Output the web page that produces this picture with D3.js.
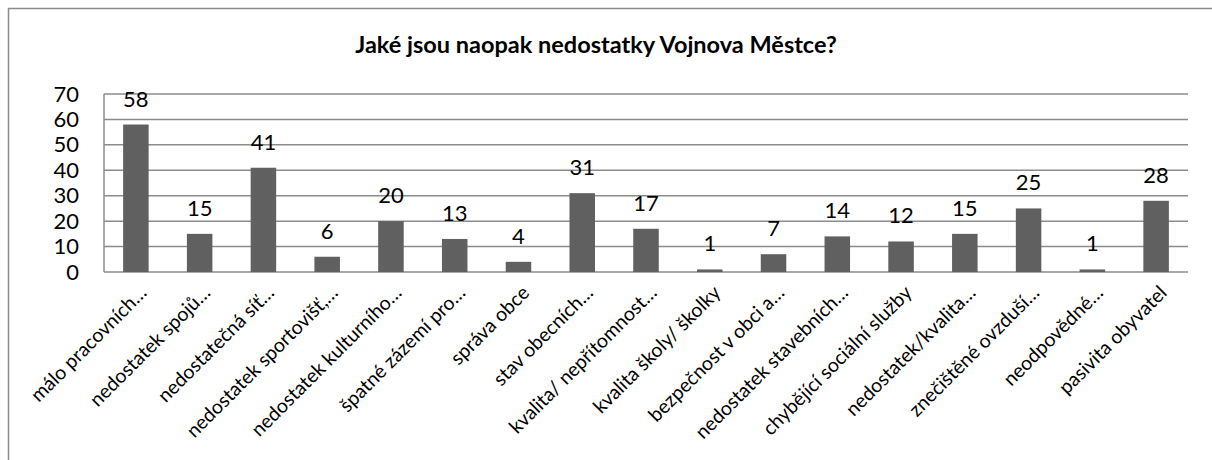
<!DOCTYPE html>
<meta charset='utf-8'>
<style>
  body { margin:0; background:#fff; }
  text { font-family: Lato, 'Open Sans', sans-serif; fill:#000; }
  .grid line { stroke:#8c8c8c; stroke-width:1.5px; }
</style>
<body>
  <script src='https://d3js.org/d3.v7.min.js' charset='utf-8'></script>
  <script>

    var width = 1212;
    var height = 460;

    var title = 'Jaké jsou naopak nedostatky Vojnova Městce?';
    var categories = ['málo pracovních…', 'nedostatek spojů…', 'nedostatečná síť…',
      'nedostatek sportovišť,…', 'nedostatek kulturního…', 'špatné zázemí pro…',
      'správa obce', 'stav obecních…', 'kvalita/ nepřítomnost…', 'kvalita školy/ školky',
      'bezpečnost v obci a…', 'nedostatek stavebních…', 'chybějící sociální služby',
      'nedostatek/kvalita…', 'znečištěné ovzduší…', 'neodpovědné…', 'pasivita obyvatel'];
    var values = [58, 15, 41, 6, 20, 13, 4, 31, 17, 1, 7, 14, 12, 15, 25, 1, 28];
    var yTicks = [0, 10, 20, 30, 40, 50, 60, 70];

    var margin = {left:104, right:24, top:94, bottom:188};

    var svg = d3.select('body').append('svg')
      .attr('width',width)
      .attr('height',height);

    // chart frame
    svg.append('path')
      .attr('d','M8.5,' + height + 'V8.5H' + width)
      .attr('fill','none')
      .attr('stroke','#8c8c8c')
      .attr('stroke-width',1.5);

    svg.append('text')
      .attr('x',596)
      .attr('y',53)
      .attr('text-anchor','middle')
      .style('font-weight','bold')
      .style('font-size','23.5px')
      .text(title);

    var x = d3.scaleBand()
      .domain(categories)
      .range([margin.left, width - margin.right])
      .paddingInner(0.6)
      .paddingOuter(0.3);

    var y = d3.scaleLinear()
      .domain([0,70])
      .range([height - margin.bottom, margin.top]);

    // gridlines
    svg.append('g')
      .attr('class','grid')
      .selectAll('line')
      .data(yTicks)
      .enter().append('line')
      .attr('x1',margin.left)
      .attr('x2',width - margin.right)
      .attr('y1',d => y(d))
      .attr('y2',d => y(d));

    // vertical axis line
    svg.append('line')
      .attr('x1',margin.left).attr('x2',margin.left)
      .attr('y1',y(70)).attr('y2',y(0))
      .attr('stroke','#8c8c8c')
      .attr('stroke-width',1.5);

    var yAxis = svg.append('g')
      .attr('transform','translate(' + (margin.left - 25) + ',0)')
      .call(d3.axisLeft(y).tickValues(yTicks).tickSize(0).tickPadding(0));
    yAxis.select('.domain').remove();
    yAxis.selectAll('text')
      .style('font-size','22px')
      .style('font-family','Lato, sans-serif');

    svg.append('g')
      .selectAll('rect')
      .data(values)
      .enter().append('rect')
      .attr('x',(d,i) => x(categories[i]))
      .attr('y',d => y(d))
      .attr('width',x.bandwidth())
      .attr('height',d => y(0) - y(d))
      .attr('fill','#606060');

    svg.append('g')
      .selectAll('text')
      .data(values)
      .enter().append('text')
      .attr('x',(d,i) => x(categories[i]) + x.bandwidth() / 2)
      .attr('y',d => y(d) - 18)
      .attr('text-anchor','middle')
      .style('font-size','22px')
      .text(d => d);

    // category labels
    svg.append('g')
      .selectAll('text')
      .data(categories)
      .enter().append('text')
      .attr('transform',d => 'translate(' + (x(d) + x.bandwidth() / 2 + 12) + ',' + (y(0) + 22) + ') rotate(-45)')
      .attr('text-anchor','end')
      .style('font-size','19.5px')
      .text(d => d);

  </script>
</body>
